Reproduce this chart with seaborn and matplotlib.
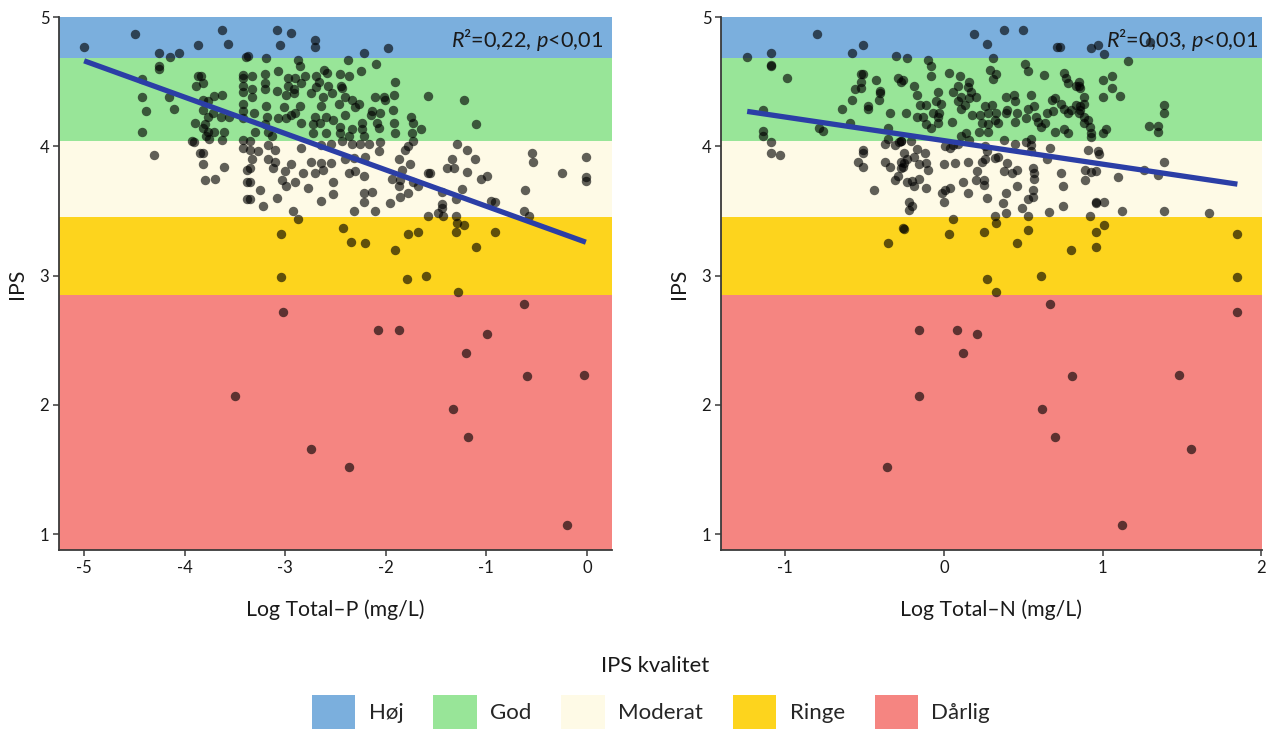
import matplotlib
matplotlib.use("Agg")
import matplotlib.pyplot as plt
from matplotlib.patches import Patch
import seaborn as sns

# ---------------- data ----------------
# IPS versus log total phosphorus
logp = [
    -5.00, -4.49, -4.26, -4.15, -4.06, -3.87, -3.63, -3.57, -3.39, -4.26, -4.26, -4.42, -4.42, -4.38,
    -4.16, -4.11, -4.42, -4.31, -3.87, -3.84, -3.89, -3.82, -3.71, -3.63, -3.82, -3.77, -3.72, -3.82,
    -3.77, -3.64, -3.56, -3.90, -3.80, -3.77, -3.71, -3.61, -3.82, -3.93, -3.91, -3.79, -3.76, -3.63,
    -3.85, -3.82, -3.82, -3.61, -3.80, -3.70, -3.42, -3.42, -3.42, -3.42, -3.42, -3.42, -3.42, -3.42,
    -3.42, -3.38, -3.38, -3.38,
    -3.08, -2.94, -3.05, -2.70, -2.70, -2.22, -1.98, -3.37, -3.19, -2.87, -2.85, -2.61, -2.58, -2.38,
    -2.10, -2.25, -3.07, -3.20, -3.33, -2.97, -2.90, -2.80, -2.69, -2.66, -2.46, -2.37, -1.91,
    -3.20, -3.33, -2.97, -2.91, -2.84, -2.69, -2.57, -2.45, -2.44,
    -3.33, -3.20, -3.08, -2.99, -2.91, -2.74, -2.62, -2.53, -2.41, -2.34, -2.27, -2.11, -2.02, -2.01,
    -1.92, -1.58,
    -3.19, -3.01, -2.85, -2.64, -2.47, -2.31, -2.14, -2.06, -1.93, -1.75,
    -3.31, -3.18, -3.07, -2.94, -2.90, -2.70, -2.59, -2.41, -2.24, -2.15, -2.09, -2.07, -1.73, -1.65,
    -1.92,
    -3.20, -2.99, -2.84, -2.72, -2.65, -2.52, -2.46, -2.34, -2.24,
    -3.30, -3.17, -3.13, -2.72, -2.59, -2.46, -2.37, -2.22, -1.91, -1.74, -1.73,
    -3.35, -3.17, -3.10, -2.84, -2.64, -2.54, -2.44, -2.34, -2.26, -2.17, -2.06, -1.78, -1.81, -3.35,
    -3.27,
    -3.33, -3.17, -3.10, -2.94, -2.74, -2.64, -2.54, -2.41, -2.32, -2.21, -2.07, -1.87, -1.76, -1.84,
    -1.58,
    -3.35, -3.12, -3.00, -2.82, -2.70, -2.62, -2.37, -2.31, -2.22, -1.94, -1.86, -1.73, -1.68,
    -3.35, -3.25, -3.03, -2.99, -2.90, -2.77, -2.52, -2.52, -2.14, -2.22, -2.22, -1.87, -1.78, -1.86,
    -3.35, -3.22, -3.08, -2.92, -2.64, -2.32, -2.11, -1.96, -2.87, -1.58,
    -3.04, -2.43, -2.35, -2.21, -1.91, -1.78, -1.68, -3.04, -1.79, -1.60,
    -1.22, -1.10, -1.29, -1.19, -1.11, -1.34, -1.39, -1.32, -1.19, -1.56, -1.05, -0.99, -0.55, -0.54,
    -0.25, -0.01, -0.01, -0.01, -0.62, -1.44, -1.30, -1.24, -0.95, -0.91, -1.44, -1.44, -1.48, -1.43,
    -1.30, -0.63, -0.58, -1.29, -1.22, -1.30, -0.91, -1.10, -1.28,
    -0.63, -3.02, -2.08, -1.87, -0.99, -1.20, -0.60, -0.03, -3.50, -1.33, -1.18, -2.74, -2.37, -0.20,
]
ips_p = [
    4.77, 4.87, 4.72, 4.69, 4.72, 4.78, 4.90, 4.79, 4.69, 4.62, 4.60, 4.52, 4.38, 4.27,
    4.38, 4.29, 4.11, 3.93, 4.54, 4.54, 4.47, 4.49, 4.39, 4.40, 4.36, 4.35, 4.26, 4.28,
    4.23, 4.23, 4.23, 4.18, 4.17, 4.11, 4.11, 4.11, 4.14, 4.04, 4.03, 4.08, 4.06, 4.05,
    3.95, 3.95, 3.86, 3.84, 3.74, 3.75, 4.55, 4.53, 4.47, 4.42, 4.33, 4.27, 4.22, 4.05,
    3.99, 3.82, 3.72, 3.59,
    4.90, 4.88, 4.78, 4.82, 4.77, 4.72, 4.76, 4.70, 4.68, 4.67, 4.62, 4.59, 4.57, 4.67,
    4.64, 4.58, 4.58, 4.56, 4.54, 4.53, 4.53, 4.54, 4.54, 4.50, 4.56, 4.54, 4.50,
    4.49, 4.44, 4.47, 4.44, 4.49, 4.46, 4.47, 4.47, 4.45,
    4.38, 4.44, 4.43, 4.40, 4.41, 4.41, 4.38, 4.41, 4.38, 4.36, 4.33, 4.38, 4.38, 4.36,
    4.40, 4.39,
    4.31, 4.30, 4.31, 4.31, 4.33, 4.30, 4.27, 4.26, 4.28, 4.23,
    4.26, 4.23, 4.22, 4.24, 4.26, 4.23, 4.23, 4.24, 4.18, 4.24, 4.18, 4.14, 4.18, 4.13,
    4.18,
    4.17, 4.22, 4.18, 4.17, 4.18, 4.20, 4.15, 4.13, 4.13,
    4.11, 4.11, 4.08, 4.10, 4.10, 4.10, 4.08, 4.08, 4.10, 4.10, 4.04,
    4.04, 4.01, 3.97, 3.99, 4.01, 4.02, 4.04, 4.02, 4.02, 4.02, 4.03, 4.00, 3.97, 3.97,
    3.96,
    3.90, 3.90, 3.88, 3.86, 3.88, 3.87, 3.87, 3.90, 3.91, 3.92, 3.96, 3.90, 3.86, 3.82,
    3.79,
    3.83, 3.83, 3.81, 3.79, 3.79, 3.82, 3.79, 3.81, 3.77, 3.75, 3.74, 3.72, 3.69,
    3.72, 3.66, 3.74, 3.69, 3.72, 3.68, 3.72, 3.63, 3.65, 3.64, 3.57, 3.69, 3.64, 3.61,
    3.59, 3.54, 3.60, 3.50, 3.58, 3.50, 3.50, 3.56, 3.44, 3.46,
    3.32, 3.37, 3.26, 3.25, 3.20, 3.32, 3.34, 2.99, 2.97, 3.00,
    4.36, 4.17, 4.02, 3.97, 3.90, 3.90, 3.83, 3.83, 3.80, 3.79, 3.75, 3.77, 3.95, 3.88,
    3.79, 3.92, 3.76, 3.73, 3.66, 3.65, 3.59, 3.67, 3.58, 3.57, 3.55, 3.52, 3.48, 3.46,
    3.46, 3.50, 3.46, 3.41, 3.39, 3.34, 3.34, 3.22, 2.87,
    2.78, 2.72, 2.58, 2.58, 2.55, 2.40, 2.22, 2.23, 2.07, 1.97, 1.75, 1.66, 1.52, 1.07,
]

# IPS versus log total nitrogen
logn = [
    -0.80, -0.51, -0.58, -0.30, -1.24, -1.09, -1.09, -1.09, -0.99, -0.52, -0.51, -0.52, -0.52, -0.56,
    -0.43, -0.40, -0.40, -0.41, -0.58, -0.64, -0.48, -0.48, -0.34, -0.29, -0.27, -1.14, -0.79, -0.76,
    -0.59, -0.35, -1.14, -1.14, -1.09, -1.09, -1.03, -0.51, -0.51, -0.54, -0.51, -0.37, -0.35, -0.31,
    -0.28, -0.27, -0.37, -0.34, -0.27, -0.27, -0.31, -0.29, -0.44, -0.26, -0.35,
    0.19, 0.38, 0.50, 0.27, 0.71, 0.73, -0.23, 0.31, 0.51, -0.10, -0.08, 0.29, 0.33, 0.31,
    0.53, 0.63, 0.76, 0.77, 0.78, 0.83, 0.85, 0.86, -0.08, 0.03,
    0.10, 0.16, 0.15, 0.09, 0.06, 0.17, 0.11, 0.20, 0.16, 0.13, -0.26,
    -0.19, -0.17, -0.15, -0.11, -0.04, -0.05, -0.02,
    -0.24, -0.17, -0.13, -0.07, -0.04, -0.03, -0.11, -0.08, -0.04, 0.05, 0.09, 0.11,
    0.18, 0.23, 0.24, 0.28, 0.26, 0.30, 0.28, 0.33, 0.32, 0.34,
    0.39, 0.44, 0.45, 0.40, 0.39, 0.46, 0.55, 0.53, 0.57, 0.58, 0.59, 0.61, 0.45, 0.52,
    0.65, 0.69, 0.68, 0.70, 0.74, 0.76, 0.78, 0.80, 0.83, 0.86, 0.70, 0.76, 0.78, 0.64,
    0.14, 0.22, 0.28, 0.38, -0.27, -0.21, 0.01, 0.04, 0.06, 0.09, 0.11, 0.16,
    0.27, 0.26, 0.24, 0.32, 0.34, 0.26,
    0.45, 0.52, 0.55, 0.55, 0.55, 0.56, 0.57, 0.57, 0.56, 0.56, 0.53, 0.67, 0.65,
    -0.25, -0.23, -0.25, -0.26, -0.19, -0.17, -0.12, -0.11, -0.10, -0.16,
    -0.23, -0.20, -0.16, -0.19, -0.11,
    0.00, 0.07, 0.15, 0.21, 0.20, 0.25, 0.25, 0.12, 0.15, 0.04, 0.01, -0.01, 0.00,
    0.38, 0.40, 0.43, 0.46, 0.46, 0.39, 0.37, 0.39, 0.32, 0.33, 0.27, 0.49, 0.53,
    0.74, 0.75, 0.75, 0.66, -0.22, -0.20, -0.22,
    -0.25, 0.03, 0.06, 0.25, 0.53, 0.46, 0.80, 0.27, 0.61, 0.33,
    0.93, 0.97, 1.01, 1.16, 1.30, 1.00, 1.06, 1.06, 1.00, 1.11, 0.85, 0.88, 0.88, 0.86,
    0.85, 0.88, 0.91, 0.92, 0.88, 0.93, 0.93, 1.00, 1.02, 1.39, 1.39, 1.29, 1.35, 1.35,
    0.91, 0.97, 0.98, 1.39, 1.26, 1.35, 0.89, 0.93, 0.96, 0.89, 1.10, 0.96, 0.96, 1.01,
    0.92, 1.12, 1.39, 1.67, 0.96, 1.01, 0.96, 1.85, 1.85,
    0.67, 1.85, -0.16, 0.08, 0.21, 0.12, 0.81, 1.48, -0.16, 0.62, 0.70, 1.56, -0.36, 1.12,
]
ips_n = [
    4.87, 4.78, 4.72, 4.70, 4.69, 4.72, 4.62, 4.63, 4.53, 4.56, 4.56, 4.50, 4.45, 4.44,
    4.51, 4.43, 4.41, 4.36, 4.36, 4.29, 4.31, 4.29, 4.26, 4.53, 4.50, 4.28, 4.14, 4.12,
    4.18, 4.14, 4.12, 4.08, 4.03, 3.95, 3.93, 3.97, 3.95, 3.88, 3.84, 4.02, 4.06, 4.01,
    4.03, 4.04, 3.88, 3.84, 3.88, 3.83, 3.74, 3.77, 3.66, 3.37, 3.25,
    4.87, 4.90, 4.90, 4.79, 4.77, 4.77, 4.68, 4.68, 4.64, 4.67, 4.62, 4.59, 4.56, 4.52,
    4.58, 4.55, 4.57, 4.53, 4.49, 4.47, 4.50, 4.45, 4.54, 4.57,
    4.54, 4.50, 4.46, 4.47, 4.42, 4.42, 4.38, 4.38, 4.37, 4.32, 4.51,
    4.47, 4.40, 4.32, 4.32, 4.42, 4.35, 4.33,
    4.26, 4.23, 4.23, 4.26, 4.23, 4.26, 4.17, 4.14, 4.18, 4.19, 4.35, 4.29,
    4.24, 4.24, 4.18, 4.17, 4.31, 4.32, 4.26, 4.26, 4.20, 4.18,
    4.38, 4.40, 4.35, 4.28, 4.26, 4.26, 4.40, 4.29, 4.31, 4.23, 4.19, 4.15, 4.19, 4.22,
    4.26, 4.27, 4.36, 4.37, 4.33, 4.29, 4.26, 4.28, 4.32, 4.28, 4.11, 4.13, 4.10, 4.18,
    4.10, 4.11, 4.11, 4.05, 4.04, 4.04, 4.00, 3.99, 4.01, 4.02, 4.08, 4.05,
    3.96, 3.90, 3.88, 3.91, 3.92, 4.00,
    4.02, 4.03, 4.01, 4.06, 3.96, 3.83, 3.79, 3.75, 3.66, 3.61, 3.59, 3.99, 3.90,
    3.95, 3.90, 3.87, 3.84, 3.92, 3.98, 3.95, 3.87, 3.82, 3.86,
    3.72, 3.73, 3.75, 3.69, 3.68,
    3.86, 3.87, 3.88, 3.81, 3.74, 3.74, 3.70, 3.72, 3.64, 3.68, 3.66, 3.64, 3.57,
    3.81, 3.87, 3.79, 3.82, 3.69, 3.64, 3.56, 3.48, 3.46, 3.41, 3.60, 3.52, 3.46,
    3.79, 3.69, 3.54, 3.49, 3.57, 3.54, 3.51,
    3.36, 3.32, 3.44, 3.34, 3.35, 3.25, 3.20, 2.97, 3.00, 2.87,
    4.76, 4.78, 4.71, 4.66, 4.81, 4.51, 4.54, 4.45, 4.38, 4.39, 4.47, 4.38, 4.33, 4.31,
    4.26, 4.23, 4.20, 4.15, 4.18, 4.10, 4.07, 4.10, 4.13, 4.32, 4.26, 4.16, 4.16, 4.11,
    3.97, 3.96, 3.94, 3.88, 3.82, 3.78, 3.82, 3.80, 3.81, 3.74, 3.76, 3.57, 3.56, 3.57,
    3.46, 3.50, 3.50, 3.48, 3.34, 3.39, 3.22, 3.32, 2.99,
    2.78, 2.72, 2.58, 2.58, 2.55, 2.40, 2.22, 2.23, 2.07, 1.97, 1.75, 1.66, 1.52, 1.07,
]

quality_labels = ["Høj", "God", "Moderat", "Ringe", "Dårlig"]
quality_colors = ["#7BAFDD", "#98E598", "#FEFAE6", "#FDD41D", "#F58581"]
# class limits on the IPS scale, from the top of the scale downwards
quality_limits = [5.0, 4.68, 4.04, 3.45, 2.85, 0.0]

r2_values = ["0,22", "0,03"]
p_value = "<0,01"
x_titles = ["Log Total\u2013P (mg/L)", "Log Total\u2013N (mg/L)"]
x_ticks = [[-5, -4, -3, -2, -1, 0], [-1, 0, 1, 2]]
y_ticks = [1, 2, 3, 4, 5]

# ---------------- style ----------------
sns.set_theme(style="ticks")
plt.rcParams["font.family"] = ["Lato", "DejaVu Sans"]
plt.rcParams["mathtext.fontset"] = "custom"
plt.rcParams["mathtext.rm"] = "Lato"
plt.rcParams["mathtext.it"] = "Lato:italic"
plt.rcParams["axes.unicode_minus"] = False

W, H = 1270, 729
fig = plt.figure(figsize=(W / 100, H / 100), dpi=100)
ax_p = fig.add_axes([59 / W, 179 / H, 553 / W, 533 / H])
ax_n = fig.add_axes([721 / W, 179 / H, 541 / W, 533 / H])

spine_col = "#3a3a3a"
text_col = "#1a1a1a"


def draw_panel(ax, x, y, xlim, xticks, xtitle, r2, text_x):
    for hi, lo, col in zip(quality_limits[:-1], quality_limits[1:], quality_colors):
        ax.axhspan(lo, hi, color=col, lw=0, zorder=0)
    sns.scatterplot(x=x, y=y, ax=ax, color="black", alpha=0.62, s=46,
                    linewidth=0, zorder=3)
    sns.regplot(x=x, y=y, ax=ax, scatter=False, ci=None, truncate=True,
                line_kws=dict(color="#2B3EA6", lw=3.8, zorder=4,
                              solid_capstyle="butt"))
    ax.set_xlim(*xlim)
    ax.set_ylim(0.877, 5.0)
    ax.set_xticks(xticks)
    ax.set_yticks(y_ticks)
    ax.set_xlabel(xtitle, fontsize=15.3, color=text_col, labelpad=17)
    ax.set_ylabel("IPS", fontsize=15.3, color=text_col, labelpad=9)
    for side in ("top", "right"):
        ax.spines[side].set_visible(False)
    for side in ("left", "bottom"):
        ax.spines[side].set_color(spine_col)
        ax.spines[side].set_linewidth(1.3)
    ax.tick_params(axis="both", length=4, width=1.1, color=spine_col,
                   labelsize=12, labelcolor=text_col, pad=3)
    ax.text(text_x, 0.956, rf"$\it{{R}}$²={r2}, $\it{{p}}${p_value}",
            transform=ax.transAxes, ha="right", va="center", fontsize=15.6,
            color=text_col, zorder=5)


draw_panel(ax_p, logp, ips_p, (-5.25, 0.25), x_ticks[0], x_titles[0], r2_values[0], 0.984)
draw_panel(ax_n, logn, ips_n, (-1.405, 2.005), x_ticks[1], x_titles[1], r2_values[1], 0.993)

# quality class legend below the panels
fig.text(655 / W, 1 - 666 / H, "IPS kvalitet", ha="center", va="center",
         fontsize=15.8, color=text_col)
handles = [Patch(facecolor=c, edgecolor="none", label=l)
           for l, c in zip(quality_labels, quality_colors)]
fig.legend(handles=handles, loc="center", bbox_to_anchor=(651 / W, 1 - 712 / H),
           ncol=5, frameon=False, fontsize=16, handlelength=1.95,
           handleheight=2.0, handletextpad=0.6, columnspacing=1.35,
           borderpad=0.0, borderaxespad=0.0)

fig.savefig("out.png", dpi=100)
